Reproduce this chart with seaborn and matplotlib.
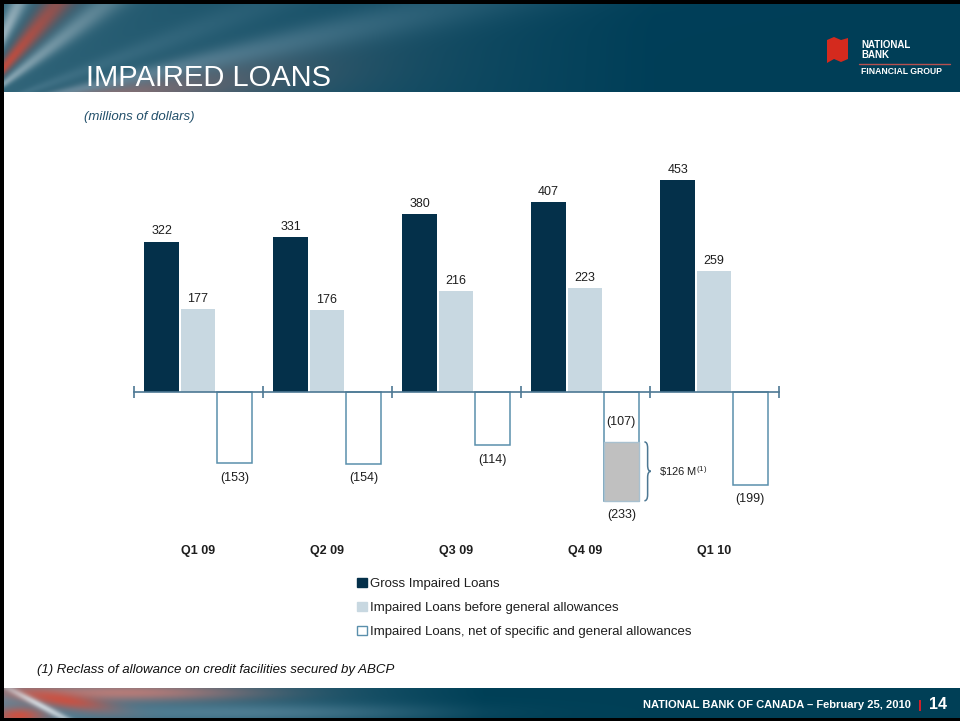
import numpy as np
import pandas as pd
import matplotlib
matplotlib.use("Agg")
import matplotlib.pyplot as plt
from matplotlib.patches import Patch, Polygon, Rectangle, PathPatch
from matplotlib.path import Path
import seaborn as sns

# ---- data (millions of dollars) ----
quarters = ["Q1 09", "Q2 09", "Q3 09", "Q4 09", "Q1 10"]
gross_impaired = [322, 331, 380, 407, 453]
before_general = [177, 176, 216, 223, 259]
net_allowances = [-153, -154, -114, -233, -199]
abcp_reclass = [0, 0, 0, 126, 0]
series_names = [
    "Gross Impaired Loans",
    "Impaired Loans before general allowances",
    "Impaired Loans, net of specific and general allowances",
]

NAVY = "#04304a"
LIGHT = "#c8d8e1"
EDGE = "#5a8fac"
AXIS = "#4d7893"
GREY = "#c0c0c0"
TEXT = "#1e1e1e"

sns.set_theme(style="white")
plt.rcParams["font.family"] = ["Liberation Sans", "DejaVu Sans"]
plt.rcParams["mathtext.fontset"] = "custom"
plt.rcParams["mathtext.rm"] = "Liberation Sans"

W, H = 960, 721
fig = plt.figure(figsize=(9.6, 7.21), dpi=100)
fig.patch.set_facecolor("white")

# ---- pixel canvas for banners and slide text ----
bg = fig.add_axes([0, 0, 1, 1], zorder=0)


def gradient_band(h, w, left_rgb, right_rgb, span):
    yy, xx = np.mgrid[0:h, 0:w].astype(float)
    t = (np.clip(xx / span, 0, 1) ** 0.8)[..., None]
    return np.array(left_rgb) * (1 - t) + np.array(right_rgb) * t


def add_rays(img, origin, rays):
    h, w, _ = img.shape
    yy, xx = np.mgrid[0:h, 0:w].astype(float)
    ang = np.degrees(np.arctan2(origin[1] - yy, xx - origin[0]))
    dist = np.hypot(xx - origin[0], yy - origin[1])
    for centre, spread, reach, strength, rgb in rays:
        k = strength * np.exp(-((ang - centre) / spread) ** 2) * np.exp(-(dist / reach) ** 2)
        k = k[..., None]
        img = img * (1 - k) + np.array(rgb) * k
    return img


def add_glow(img, cx, cy, sx, sy, tilt, strength, rgb):
    h, w, _ = img.shape
    yy, xx = np.mgrid[0:h, 0:w].astype(float)
    a = np.radians(tilt)
    u = (xx - cx) * np.cos(a) - (yy - cy) * np.sin(a)
    v = (xx - cx) * np.sin(a) + (yy - cy) * np.cos(a)
    k = (strength * np.exp(-(u / sx) ** 2 - (v / sy) ** 2))[..., None]
    return img * (1 - k) + np.array(rgb) * k


WHITE_RAY = (0.86, 0.89, 0.91)
RED_RAY = (0.86, 0.28, 0.20)
PINK_RAY = (0.85, 0.50, 0.46)
SWEEP = (0.52, 0.66, 0.74)

header = gradient_band(88, 956, (0.20, 0.40, 0.48), (0.0, 0.245, 0.345), 650)
header = add_rays(header, (-40, 110),
                  [(64, 4, 170, 0.8, WHITE_RAY), (76, 3, 150, 0.7, WHITE_RAY),
                   (50, 5, 200, 0.9, RED_RAY), (38, 4, 220, 0.5, WHITE_RAY),
                   (7, 5, 270, 0.75, PINK_RAY), (12.5, 2.5, 520, 0.5, SWEEP),
                   (20, 3, 420, 0.2, SWEEP)])
header = np.clip(header, 0, 1)

footer = gradient_band(30, 956, (0.36, 0.52, 0.60), (0.0, 0.25, 0.34), 480)
footer = add_glow(footer, 120, 4, 130, 9, 0, 0.75, PINK_RAY)
footer = add_glow(footer, 60, 12, 50, 8, -10, 0.8, RED_RAY)
footer = add_glow(footer, 15, 27, 25, 8, 0, 0.9, RED_RAY)
footer = add_glow(footer, 38, 18, 45, 3.5, -28, 0.85, WHITE_RAY)
footer = add_glow(footer, 250, 24, 170, 9, 0, 0.4, SWEEP)
footer = np.clip(footer, 0, 1)

bg.imshow(header, extent=[4, W, 92, 4], aspect="auto", interpolation="bilinear")
bg.imshow(footer, extent=[4, W, 718, 688], aspect="auto", interpolation="bilinear")
bg.set_xlim(0, W)
bg.set_ylim(H, 0)
bg.axis("off")

# slide frame
for rect in [(0, 0, W, 4), (0, 0, 4, H), (0, 718, W, 3)]:
    bg.add_patch(Rectangle(rect[:2], rect[2], rect[3], color="black", lw=0))

# title and logo
bg.text(86, 86, "IMPAIRED LOANS", fontsize=21, color="white", va="baseline")
bg.add_patch(Polygon([(827, 40), (834, 37), (841, 40), (848, 38), (848, 59),
                      (841, 62), (834, 59), (827, 63)], closed=True,
                     color="#d42a1e", lw=0))
bg.text(861, 44.5, "NATIONAL", fontsize=7, fontweight="bold", color="white", va="center")
bg.text(861, 55, "BANK", fontsize=7, fontweight="bold", color="white", va="center")
bg.plot([859, 950], [63.5, 63.5], color="#b65050", lw=1)
bg.text(861, 71, "FINANCIAL GROUP", fontsize=6.2, fontweight="bold", color="white", va="center")

bg.text(84, 117, "(millions of dollars)", fontsize=9.5, style="italic", color="#23506b", va="center")
bg.text(37, 670, "(1) Reclass of allowance on credit facilities secured by ABCP",
        fontsize=9.5, style="italic", color="#111111", va="center")

# footer
bg.text(911, 705, "NATIONAL BANK OF CANADA \u2013 February 25, 2010", ha="right", va="center",
        fontsize=8, fontweight="bold", color="white")
bg.add_patch(Rectangle((918.5, 700), 2.5, 11, color="#d0202a", lw=0))
bg.text(929, 704.5, "14", ha="left", va="center", fontsize=11.5, fontweight="bold", color="white")

# ---- bar chart ----
ax = fig.add_axes([133.5 / W, (H - 541.4) / H, 645 / W, 383 / H], zorder=2)
ax.patch.set_alpha(0)

rows = []
for name, vals in zip(series_names, [gross_impaired, before_general, net_allowances]):
    for q, v in zip(quarters, vals):
        rows.append({"quarter": q, "series": name, "value": v})
df = pd.DataFrame(rows)

sns.barplot(data=df, x="quarter", y="value", hue="series", order=quarters,
            hue_order=series_names, palette=[NAVY, LIGHT, "white"], saturation=1,
            width=0.845, gap=0.05, errorbar=None, legend=False, ax=ax)

gross_bars, before_bars, net_bars = ax.containers[:3]
for bar in list(gross_bars) + list(before_bars):
    bar.set_linewidth(0)
for bar in net_bars:
    bar.set_facecolor("white")
    bar.set_edgecolor(EDGE)
    bar.set_linewidth(1.1)

ax.set_xlim(-0.5, len(quarters) - 0.5)
ax.set_ylim(-320, 500)
ax.set_xlabel("")
ax.set_ylabel("")
ax.set_yticks([])
ax.set_xticks(np.arange(-0.5, len(quarters), 1.0))
ax.set_xticklabels([])
for side in ["left", "right", "top"]:
    ax.spines[side].set_visible(False)
ax.spines["bottom"].set_position(("data", 0))
ax.spines["bottom"].set_color(AXIS)
ax.spines["bottom"].set_linewidth(1.2)
ax.tick_params(axis="x", direction="inout", length=9, width=1.2, color=AXIS, bottom=True)

# value labels
ax.bar_label(gross_bars, labels=[str(v) for v in gross_impaired], padding=3, fontsize=9, color=TEXT)
ax.bar_label(before_bars, labels=[str(v) for v in before_general], padding=3, fontsize=9, color=TEXT)
ax.bar_label(net_bars, labels=[f"({-v})" for v in net_allowances], padding=6, fontsize=9, color=TEXT)

# ABCP reclass portion of the net bar
for i, (net, extra) in enumerate(zip(net_allowances, abcp_reclass)):
    if extra == 0:
        continue
    p = net_bars[i]
    upper = net + extra
    ax.bar(p.get_x(), -extra, bottom=upper, width=p.get_width(), align="edge",
           color=GREY, edgecolor="#a8c0cf", linewidth=1, zorder=p.get_zorder() + 0.1)
    xc = p.get_x() + p.get_width() / 2
    ax.annotate(f"({-upper})", (xc, upper), xytext=(0, 14), textcoords="offset points",
                ha="center", va="center", fontsize=9, color=TEXT)
    # curly brace spanning the reclass amount
    x0 = p.get_x() + p.get_width() + 0.045
    bw = 0.05
    xm = x0 + bw / 2
    ymid = (upper + net) / 2
    d = 13
    verts = [(x0, upper), (xm, upper), (xm, upper - d),
             (xm, ymid + d), (xm, ymid), (x0 + bw, ymid),
             (xm, ymid), (xm, ymid - d),
             (xm, net + d), (xm, net), (x0, net)]
    codes = [Path.MOVETO, Path.CURVE3, Path.CURVE3,
             Path.LINETO, Path.CURVE3, Path.CURVE3,
             Path.CURVE3, Path.CURVE3,
             Path.LINETO, Path.CURVE3, Path.CURVE3]
    ax.add_patch(PathPatch(Path(verts, codes), facecolor="none", edgecolor=AXIS, lw=1.1,
                           clip_on=False))
    ax.text(x0 + bw + 0.06, ymid, r"\$126 M$^{\mathrm{(1)}}$", va="center", ha="left",
            fontsize=8, color=TEXT)

# quarter labels under the chart
for i, q in enumerate(quarters):
    ax.text(i, -340, q, ha="center", va="center", fontsize=9, fontweight="bold", color=TEXT)

# legend
handles = [Patch(facecolor=NAVY, edgecolor=NAVY),
           Patch(facecolor=LIGHT, edgecolor=LIGHT),
           Patch(facecolor="white", edgecolor=EDGE, linewidth=1)]
leg = fig.legend(handles, series_names, loc="upper left",
                 bbox_to_anchor=(357 / W, 1 - 578 / H), frameon=False, fontsize=9.5,
                 handlelength=0.72, handleheight=0.72, handletextpad=0.3,
                 labelspacing=0.88, borderaxespad=0, borderpad=0)
for t in leg.get_texts():
    t.set_color(TEXT)

fig.savefig("out.png", dpi=100, facecolor="white")
